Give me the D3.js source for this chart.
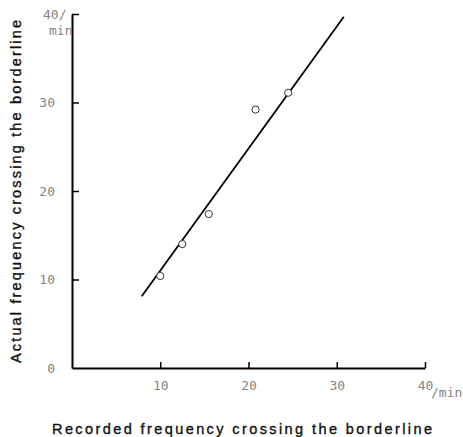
<!DOCTYPE html>
<html>
<head>
<meta charset="utf-8">
<script src="https://cdn.jsdelivr.net/npm/d3@7"></script>
<style>
  body { margin: 0; background: #fff; }
  .tick text, .unit { font-family: "DejaVu Sans Mono", monospace; font-size: 13px; fill: #858585; }
  .axis-title { font-family: "Liberation Sans", Arial, sans-serif; font-size: 14.5px; fill: #111; stroke: #111; stroke-width: 0.35px; }
</style>
</head>
<body>
<script>
// recorded vs actual frequency (per min)
const recorded = [10.0, 12.5, 15.5, 20.8, 24.5];
const actual = [10.4, 14.0, 17.4, 29.2, 31.1];
// fitted line ends
const lineX = [7.9, 30.8];
const lineY = [8.1, 39.7];
const xTicks = [10, 20, 30, 40];
const yTicks = [0, 10, 20, 30, 40];

const svg = d3.select('body')
    .append('svg')
    .attr('width', 463)
    .attr('height', 437);

const x = d3.scaleLinear().domain([0, 40]).range([72, 425]);
const y = d3.scaleLinear().domain([0, 40]).range([368, 14]);

// x axis, ticks point up into the plot
const xAxis = svg.append('g')
    .attr('transform', `translate(0, ${y(0)})`)
    .call(d3.axisBottom(x)
        .tickValues(xTicks)
        .tickSizeInner(-6)
        .tickSizeOuter(0)
        .tickPadding(13));
xAxis.select('.domain').attr('stroke', '#000').attr('stroke-width', 2);
xAxis.selectAll('.tick line').attr('stroke', '#000').attr('stroke-width', 1.5);

// y axis, ticks point right
const yAxis = svg.append('g')
    .attr('transform', `translate(${x(0)}, 0)`)
    .call(d3.axisLeft(y)
        .tickValues(yTicks)
        .tickSizeInner(-7)
        .tickSizeOuter(0)
        .tickPadding(17)
        .tickFormat(d => d === 40 ? '' : d));
yAxis.select('.domain').attr('stroke', '#000').attr('stroke-width', 2);
yAxis.selectAll('.tick line').attr('stroke', '#000').attr('stroke-width', 1.5);
yAxis.selectAll('.tick').filter(d => d === 0).select('line').remove();

// unit labels
svg.append('text').attr('class', 'unit')
    .attr('x', 43).attr('y', 19)
    .text('40/');
svg.append('text').attr('class', 'unit')
    .attr('x', 49).attr('y', 35)
    .text('min');
svg.append('text').attr('class', 'unit')
    .attr('x', 431).attr('y', 397)
    .text('/min');

// regression line
svg.append('line')
    .attr('x1', x(lineX[0])).attr('y1', y(lineY[0]))
    .attr('x2', x(lineX[1])).attr('y2', y(lineY[1]))
    .attr('stroke', '#000')
    .attr('stroke-width', 1.8);

// points
svg.selectAll('circle')
    .data(recorded.map((r, i) => [r, actual[i]]))
    .enter()
    .append('circle')
    .attr('cx', d => x(d[0]))
    .attr('cy', d => y(d[1]))
    .attr('r', 3.6)
    .attr('fill', '#fff')
    .attr('stroke', '#333')
    .attr('stroke-width', 1);

// axis titles
svg.append('text')
    .attr('class', 'axis-title')
    .attr('x', 52)
    .attr('y', 434)
    .attr('textLength', 380)
    .attr('lengthAdjust', 'spacing')
    .text('Recorded frequency crossing the borderline');

svg.append('text')
    .attr('class', 'axis-title')
    .attr('transform', 'translate(21, 363) rotate(-90)')
    .attr('textLength', 343)
    .attr('lengthAdjust', 'spacing')
    .text('Actual frequency crossing the borderline');
</script>
</body>
</html>
